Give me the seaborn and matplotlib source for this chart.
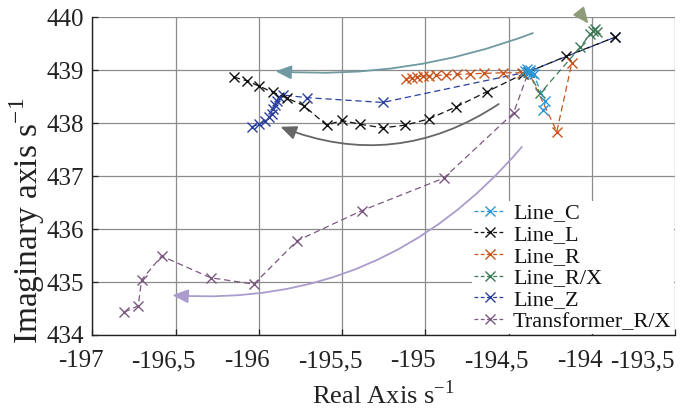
import numpy as np
import pandas as pd
import matplotlib
matplotlib.use("Agg")
import matplotlib.pyplot as plt
import matplotlib.transforms as mtransforms
import seaborn as sns
from matplotlib.lines import Line2D

# ---------------- data ----------------
line_c_x = [-194.40, -194.39, -194.38, -194.37, -194.36, -194.35, -194.28, -194.29]
line_c_y = [438.99, 439.02, 438.97, 439.00, 438.95, 438.92, 438.41, 438.24]

line_l_x = [-196.15, -196.074, -196.0, -195.914, -195.83, -195.73, -195.593, -195.503,
            -195.393, -195.257, -195.123, -194.977, -194.813, -194.632, -194.416,
            -194.156, -193.862]
line_l_y = [438.87, 438.80, 438.70, 438.58, 438.47, 438.33, 437.96, 438.05, 437.98,
            437.91, 437.96, 438.08, 438.31, 438.59, 438.92, 439.26, 439.62]

line_r_x = [-195.117, -195.083, -195.053, -195.017, -194.977, -194.933, -194.877,
            -194.809, -194.733, -194.649, -194.536, -194.422, -194.38, -194.21, -194.12]
line_r_y = [438.83, 438.86, 438.87, 438.89, 438.89, 438.90, 438.91, 438.92, 438.93,
            438.94, 438.95, 438.95, 438.97, 437.84, 439.13]

line_rx_x = [-194.38, -194.31, -194.07, -194.01, -193.99, -193.98, -193.97]
line_rx_y = [438.97, 438.56, 439.43, 439.68, 439.73, 439.77, 439.72]

line_z_x = [-196.044, -196.0, -195.964, -195.938, -195.924, -195.914, -195.904,
            -195.894, -195.878, -195.854, -195.71, -195.257, -194.383, -193.862]
line_z_y = [437.93, 437.98, 438.04, 438.11, 438.18, 438.26, 438.34, 438.42, 438.50,
            438.53, 438.48, 438.39, 438.97, 439.62]

trafo_x = [-196.81, -196.725, -196.705, -196.585, -196.29, -196.03, -195.77, -195.38,
           -194.89, -194.47, -194.38]
trafo_y = [434.43, 434.55, 435.04, 435.49, 435.08, 434.96, 435.78, 436.35, 436.96,
           438.19, 438.97]

series_names = ["Line_C", "Line_L", "Line_R", "Line_R/X", "Line_Z", "Transformer_R/X"]
series_x = [line_c_x, line_l_x, line_r_x, line_rx_x, line_z_x, trafo_x]
series_y = [line_c_y, line_l_y, line_r_y, line_rx_y, line_z_y, trafo_y]

x_ticks = [-197, -196.5, -196, -195.5, -195, -194.5, -194, -193.5]
x_tick_labels = ["-197", "-196,5", "-196", "-195,5", "-195", "-194,5", "-194", "-193,5"]
y_ticks = [434, 435, 436, 437, 438, 439, 440]
y_tick_labels = ["434", "435", "436", "437", "438", "439", "440"]

colors = {
    "Line_C": "#2b95d6",
    "Line_L": "#111111",
    "Line_R": "#c8541c",
    "Line_R/X": "#3d7a55",
    "Line_Z": "#2a3f9e",
    "Transformer_R/X": "#7b5880",
}
zorders = {"Line_C": 8, "Line_L": 5, "Line_R": 6, "Line_R/X": 7, "Line_Z": 4,
           "Transformer_R/X": 3}

# ---------------- styling ----------------
sns.set_theme(style="white")
plt.rcParams["font.family"] = ["Liberation Serif", "DejaVu Serif"]
plt.rcParams["mathtext.fontset"] = "custom"
plt.rcParams["mathtext.rm"] = "Liberation Serif"

fig = plt.figure(figsize=(6.8, 4.09), dpi=100)
ax = fig.add_axes([0.136, 0.181, 0.8566, 0.777])

frames = []
for name, xs, ys in zip(series_names, series_x, series_y):
    frames.append(pd.DataFrame({"x": xs, "y": ys, "series": name,
                                "order": np.arange(len(xs))}))
df = pd.concat(frames, ignore_index=True)

for name in series_names:
    sub = df[df["series"] == name]
    sns.lineplot(data=sub, x="x", y="y", sort=False, estimator=None, ax=ax,
                 color=colors[name], linestyle=(0, (5, 3)), linewidth=0.9,
                 marker="x", markersize=7, markeredgewidth=1.0,
                 markeredgecolor=colors[name], markerfacecolor=colors[name],
                 zorder=zorders[name], legend=False)

ax.set_xlim(-197, -193.5)
ax.set_ylim(434, 440)
ax.set_xticks(x_ticks)
ax.set_xticklabels(x_tick_labels)
ax.set_yticks(y_ticks)
ax.set_yticklabels(y_tick_labels)
ax.grid(True, color="#8c8c8c", linewidth=0.9)
ax.set_axisbelow(True)
for s in ["top", "right"]:
    ax.spines[s].set_visible(False)
for s in ["left", "bottom"]:
    ax.spines[s].set_color("#222222")
    ax.spines[s].set_linewidth(1.0)
ax.tick_params(axis="both", direction="in", length=4, width=0.9, colors="#222222",
               labelsize=18, labelcolor="#222222", left=True, bottom=True)
ax.tick_params(axis="x", pad=11)
ax.tick_params(axis="y", pad=6)

# x tick labels sit slightly left of their ticks in the reference
shift = mtransforms.ScaledTranslation(-12 / 100, 0, fig.dpi_scale_trans)
xlabels = ax.get_xticklabels()
for i, lab in enumerate(xlabels):
    if i == len(xlabels) - 1:
        lab.set_horizontalalignment("right")
    else:
        lab.set_transform(lab.get_transform() + shift)

ax.set_xlabel("Real Axis s$^{\\mathregular{-1}}$", fontsize=19, color="#222222", labelpad=6)
ax.set_ylabel("Imaginary axis s$^{\\mathregular{-1}}$", fontsize=24, color="#222222")
ax.yaxis.set_label_coords(-0.078, 0.36)

# ---------------- annotation arrows ----------------
def arrow(start, end, color, rad, lw=1.3):
    ax.annotate("", xy=end, xytext=start,
                arrowprops=dict(arrowstyle="-|>,head_length=0.8,head_width=0.35",
                                color=color, lw=lw,
                                connectionstyle=f"arc3,rad={rad}",
                                shrinkA=0, shrinkB=0),
                zorder=2, annotation_clip=False)

arrow((-194.354, 439.70), (-195.90, 438.98), "#6f9aa1", -0.11)
arrow((-194.559, 438.36), (-195.87, 437.93), "#666666", -0.26)
arrow((-194.42, 437.55), (-196.52, 434.75), "#aa9ccc", -0.25)
arrow((-194.07, 440.08), (-194.02, 439.88), "#8d9c78", 0.0)

# ---------------- legend ----------------
handles = [Line2D([0], [0], color=colors[n], linestyle=(0, (3, 2)), linewidth=0.9,
                  marker="x", markersize=7, markeredgewidth=1.0) for n in series_names]
leg = ax.legend(handles, series_names, loc="lower right", fontsize=16,
                frameon=True, facecolor="white", edgecolor="none", framealpha=1,
                borderaxespad=0.05, borderpad=0.1, labelspacing=0.05,
                handlelength=1.4, handletextpad=0.35)
leg.set_zorder(20)
for t in leg.get_texts():
    t.set_color("#111111")

fig.savefig("out.png", dpi=100)
